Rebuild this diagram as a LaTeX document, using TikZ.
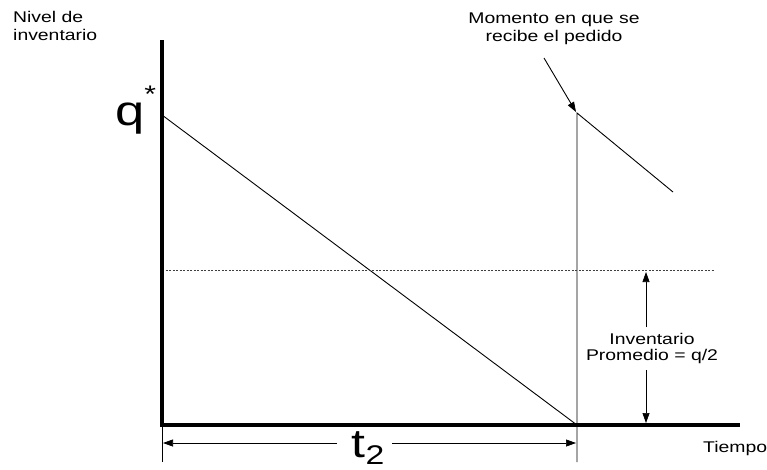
\documentclass[tikz,border=0pt]{standalone}
\usepackage{fontspec}
\setmainfont{Liberation Sans}
\newfontfamily\labfont[FakeStretch=1.25]{Liberation Sans}
\usetikzlibrary{arrows.meta}
\begin{document}
\begin{tikzpicture}[x=1pt,y=-1pt,
  axisline/.style={line width=3.5pt},
  curve/.style={line width=0.9pt},
  dimline/.style={line width=0.7pt},
  avgline/.style={line width=0.6pt, dash pattern=on 2pt off 1.5pt, black!75},
  lab/.style={font=\labfont\fontsize{15.5}{18}\selectfont, inner sep=0pt},
  big/.style={font=\labfont\fontsize{40}{44}\selectfont, inner sep=0pt},
  tip/.style={-{Triangle[length=10pt,width=7pt]}}]
\useasboundingbox (0,0) rectangle (767,469);
% coordinates
\coordinate (O) at (162,425);
\coordinate (Ytop) at (162,40);
\coordinate (Xend) at (740,425);
\coordinate (Q) at (162,115);
\coordinate (R) at (577,425);
\coordinate (Rtop) at (577,113);
\coordinate (Rbot) at (577,462);
\coordinate (Lbot) at (162,462);
\coordinate (Dend) at (673,192);
\coordinate (Astart) at (544,58);
\coordinate (Atip) at (576,112);
\coordinate (H) at (162,270);
\coordinate (Hend) at (715,270);
\coordinate (avgT) at (646,272);
\coordinate (avgB) at (646,423);
\coordinate (tL) at (163,443);
\coordinate (tR) at (576,443);
\coordinate (gL) at (337,443);
\coordinate (gR) at (392,443);
% labels
\node[lab, align=left, anchor=north west] (nivel) at (13,11.5) {Nivel de\\inventario};
\node[lab, align=center, anchor=north] (momento) at (554,12.5) {Momento en que se\\recibe el pedido};
\node[lab, align=center, inner ysep=6pt] (avg) at (652,348.5) {Inventario\\[-2pt]Promedio = q/2};
\node[lab, anchor=base west] (tiempo) at (703,452) {Tiempo};
\node[big, anchor=base west, font=\labfont\fontsize{42}{44}\selectfont] (q) at (115,125) {q\raisebox{23pt}{\fontsize{24}{24}\selectfont *}};
\node[big, anchor=base] (t2) at (368,457) {t\raisebox{-7pt}{\fontsize{27}{27}\selectfont 2}};
% lines
\draw[curve] (Q) -- (R);
\draw[curve] (Rbot) -- (Rtop) -- (Dend);
\draw[curve] (Lbot) -- (O);
\draw[curve, tip] (Astart) -- (Atip);
\draw[avgline] (H) -- (Hend);
\draw[dimline, tip] (avg.north -| avgT) -- (avgT);
\draw[dimline, tip] (avg.south -| avgB) -- (avgB);
\draw[dimline, tip] (gL) -- (tL);
\draw[dimline, tip] (gR) -- (tR);
% axes
\draw[axisline] (Ytop) -- (O) -- (Xend);
\end{tikzpicture}
\end{document}
